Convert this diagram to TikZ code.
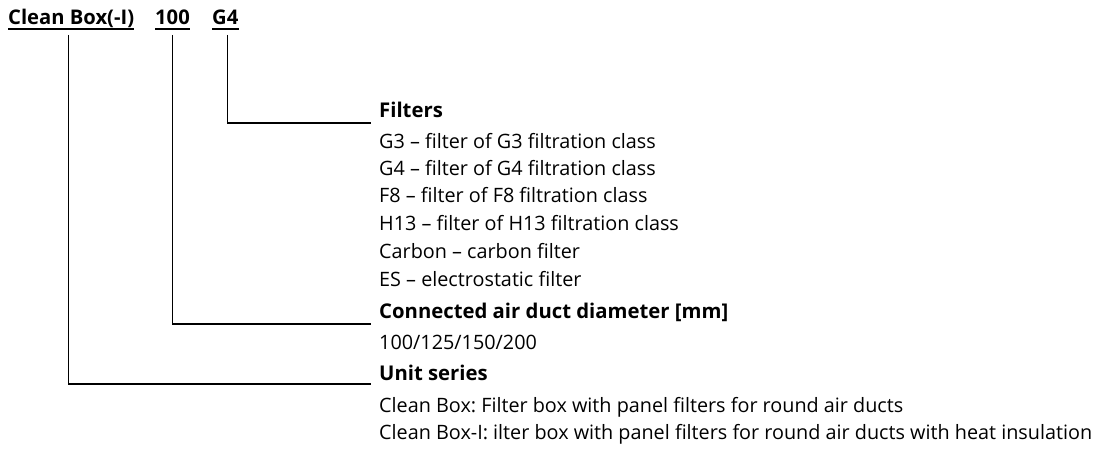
\documentclass[tikz,border=0pt]{standalone}
\usepackage{fontspec}
\setmainfont{Open Sans}
\frenchspacing
\begin{document}
\begin{tikzpicture}[x=1pt,y=-1pt,
  body/.style={anchor=base west,inner sep=0pt,font=\fontsize{19.8}{22}\selectfont},
  head/.style={body,font=\fontsize{20.3}{22}\selectfont\bfseries},
  title/.style={anchor=base west,inner sep=0pt,font=\fontsize{20.2}{22}\selectfont\bfseries},
  ln/.style={line width=1.1pt}]
\useasboundingbox (0,0) rectangle (1096,449);
% title
\node[title] (cb) at (8,25) {Clean Box(-I)};
\node[title] (dn) at (155,25) {100};
\node[title] (fl) at (212,25) {G4};
\foreach \n in {cb,dn,fl}{\draw[line width=1.6pt] ([yshift=-4pt]\n.base west) -- ([yshift=-4pt]\n.base east);}
% right column
\node[head] (hf) at (379,118) {Filters};
\node[body] (f1) at (379,149) {G3 – filter of G3 filtration class};
\node[body] (f2) at (379,176) {G4 – filter of G4 filtration class};
\node[body] (f3) at (379,203) {F8 – filter of F8 filtration class};
\node[body] (f4) at (379,231) {H13 – filter of H13 filtration class};
\node[body] (f5) at (379,259) {Carbon – carbon filter};
\node[body] (f6) at (379,287) {ES – electrostatic filter};
\node[head] (hd) at (379,319) {Connected air duct diameter [mm]};
\node[body] (d1) at (379,349) {100/125/150/200};
\node[head] (hu) at (379,381) {Unit series};
\node[body] (u1) at (379,412) {Clean Box: Filter box with panel filters for round air ducts};
\node[body] (u2) at (379,439) {Clean Box-I: ilter box with panel filters for round air ducts with heat insulation};
% connectors
\coordinate (ef) at (371,123);
\coordinate (ed) at (371,324);
\coordinate (eu) at (371,384);
\draw[ln] (fl.base) ++(2,10) |- (ef);
\draw[ln] (dn.base) ++(0,10) |- (ed);
\draw[ln] (cb.base) ++(-3,10) |- (eu);
\end{tikzpicture}
\end{document}
